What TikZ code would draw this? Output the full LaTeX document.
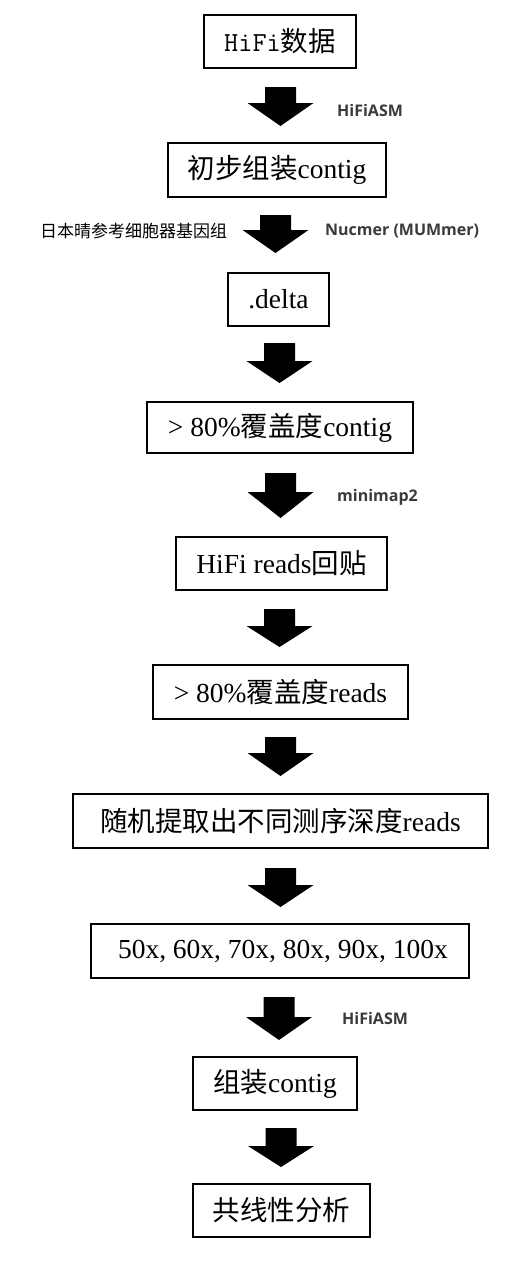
\documentclass[tikz,border=0pt]{standalone}
\usepackage{fontspec}
\setmainfont{Liberation Serif}
\newfontfamily\cjkfont{Noto Sans CJK SC}
\newfontfamily\labfont{Open Sans}
\newcommand\zh[1]{{\cjkfont #1}}
\definecolor{labgray}{HTML}{3A3A3A}
\newcommand\flowarrow[5]{% name, cx, top, headtop, tip
  \coordinate (#1) at (#2,#3);
  \fill[black] (#2-15.5,#3) -- (#2+15.5,#3) -- (#2+15.5,#4) -- (#2+33,#4)
    -- (#2,#5) -- (#2-33,#4) -- (#2-15.5,#4) -- cycle;}
\begin{document}
\begin{tikzpicture}[x=1pt,y=-1pt,
  box/.style={draw=black,line width=1.6pt,inner sep=0pt,
    font=\fontsize{27.5}{31}\selectfont},
  lab/.style={font=\labfont\bfseries\fontsize{16}{18}\selectfont,text=labgray,inner sep=0pt},
  zhlab/.style={font=\cjkfont\fontsize{17}{19}\selectfont,text=black,inner sep=0pt}]
\useasboundingbox (0,0) rectangle (532,1272);
\fill[white] (0,0) rectangle (532,1272);

\node[box,minimum width=152pt,minimum height=53pt] (b1) at (280,41.5) {{\ttfamily HiFi}\zh{数据}};
\node[box,minimum width=218pt,minimum height=54pt] (b2) at (277,170) {\zh{初步组装}contig};
\node[box,minimum width=101pt,minimum height=53pt] (b3) at (278.5,299.5) {.delta};
\node[box,minimum width=266pt,minimum height=51pt] (b4) at (280,427.5) {> 80\%\zh{覆盖度}contig};
\node[box,minimum width=211pt,minimum height=53pt] (b5) at (281.5,563.5) {HiFi reads\zh{回贴}};
\node[box,minimum width=255pt,minimum height=54pt] (b6) at (280.5,692) {> 80\%\zh{覆盖度}reads};
\node[box,minimum width=415pt,minimum height=54pt] (b7) at (280.5,821) {\zh{随机提取出不同测序深度}reads};
\node[box,minimum width=378pt,minimum height=54pt] (b8) at (280,951) {\hspace{6pt}50x, 60x, 70x, 80x, 90x, 100x};
\node[box,minimum width=164pt,minimum height=53pt] (b9) at (275,1083.5) {\zh{组装}contig};
\node[box,minimum width=177pt,minimum height=53pt] (b10) at (281.5,1210.5) {\zh{共线性分析}};

\flowarrow{a1}{280.5}{87}{103}{126}
\flowarrow{a2}{275.5}{215}{230}{253}
\flowarrow{a3}{279.5}{343}{361}{383}
\flowarrow{a4}{280.5}{473}{492}{518}
\flowarrow{a5}{279.5}{609}{626}{647}
\flowarrow{a6}{280.5}{737}{753}{776}
\flowarrow{a7}{280.5}{868}{885}{907}
\flowarrow{a8}{279}{997}{1017}{1040}
\flowarrow{a9}{281}{1128}{1146}{1167}

\node[lab,anchor=west] (l1) at (337,110) {HiFiASM};
\node[zhlab,anchor=west] (l2) at (40,231) {日本晴参考细胞器基因组};
\node[lab,anchor=west] (l3) at (325,231) {Nucmer (MUMmer)};
\node[lab,anchor=west] (l4) at (337,497) {minimap2};
\node[lab,anchor=west] (l5) at (342,1018) {HiFiASM};
\end{tikzpicture}
\end{document}
